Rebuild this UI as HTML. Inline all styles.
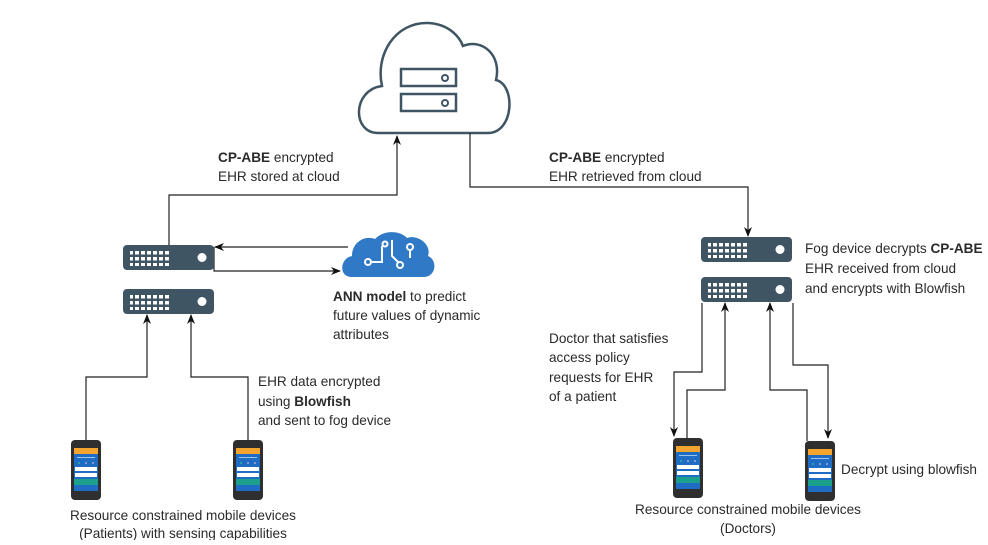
<!DOCTYPE html>
<html><head><meta charset="utf-8"><style>
body{margin:0;background:#fff;width:988px;height:540px;overflow:hidden}
text{font-family:"Liberation Sans",sans-serif;font-size:13.6px;fill:#2a2a2a}
</style></head><body>
<svg width="988" height="540" viewBox="0 0 988 540" xmlns="http://www.w3.org/2000/svg">
<defs>
<marker id="a" markerWidth="10" markerHeight="10" refX="9" refY="5" orient="auto" markerUnits="userSpaceOnUse">
<path d="M0,1 L10,5 L0,9 L3,5 Z" fill="#111"/></marker>
<pattern id="dots" width="6" height="6" patternUnits="userSpaceOnUse"><rect x="0" y="0" width="4" height="3.5" fill="#fff"/></pattern>
<g id="srv">
<rect x="0" y="0" width="91" height="25" rx="4" fill="#3f5564"/>
<rect x="7" y="5" width="40" height="16" fill="url(#dots)"/>
<circle cx="79" cy="12.5" r="4.5" fill="#fff"/>
</g>
<g id="ph">
<rect x="0" y="0" width="30" height="60" rx="4" fill="#2f2f2f"/>
<rect x="3" y="8" width="24" height="43" fill="#1e6cc4"/>
<rect x="3" y="8" width="24" height="6" fill="#f5a430"/>
<rect x="6" y="17" width="18" height="1" fill="#9cc4ef"/>
<circle cx="8" cy="23" r="1" fill="#2bb58f"/><circle cx="15" cy="23" r="1" fill="#aac"/><circle cx="22" cy="23" r="1" fill="#aac"/>
<rect x="4" y="27" width="22" height="4" fill="#fff"/>
<rect x="4" y="33" width="22" height="4" fill="#fff"/>
<rect x="3" y="39" width="24" height="6" fill="#1aa08c"/>
</g>
</defs>
<!-- cloud -->
<path d="M378,133 C352,133 352,90 382,86 C375,55 395,22 428,23 C450,24 460,38 463,46 C482,38 502,55 496,80 C516,85 514,133 488,133 Z" fill="none" stroke="#3f5564" stroke-width="2.5"/>
<rect x="401" y="69" width="55" height="17" fill="none" stroke="#3f5564" stroke-width="2.5"/>
<circle cx="445" cy="78" r="3" fill="none" stroke="#3f5564" stroke-width="2"/>
<rect x="401" y="94" width="55" height="17" fill="none" stroke="#3f5564" stroke-width="2.5"/>
<circle cx="445" cy="103" r="3" fill="none" stroke="#3f5564" stroke-width="2"/>
<g fill="none" stroke="#222" stroke-width="1.2">
<path d="M169,245 V195 H397 V136" marker-end="url(#a)"/>
<path d="M470,133 V187 H748 V236" marker-end="url(#a)"/>
<path d="M348,247 H215" marker-end="url(#a)"/>
<path d="M214,247 V271 H340" marker-end="url(#a)"/>
<path d="M86,440 V377 H147 V315" marker-end="url(#a)"/>
<path d="M248,440 V377 H191 V315" marker-end="url(#a)"/>
<path d="M702,303 V372 H674 V436" marker-end="url(#a)"/>
<path d="M687,438 V390 H725 V303" marker-end="url(#a)"/>
<path d="M807,441 V390 H770 V303" marker-end="url(#a)"/>
<path d="M793,303 V365 H828 V438" marker-end="url(#a)"/>
</g>
<use href="#srv" x="123" y="245"/>
<use href="#srv" x="123" y="289"/>
<use href="#srv" x="701" y="237"/>
<use href="#srv" x="701" y="277"/>
<!-- ANN brain -->
<path d="M352,277 C338,277 340,258 352,256 C352,242 365,235 375,239 C383,230 400,230 407,238 C418,234 432,245 428,256 C438,260 436,277 424,277 Z" fill="#2f79c6"/>
<g stroke="#fff" stroke-width="2" fill="none"><path d="M372,262 H382 V246"/><circle cx="368" cy="262" r="3"/><path d="M392,240 V256 L398,262"/><circle cx="400" cy="265" r="3"/><path d="M410,258 V250"/><circle cx="410" cy="247" r="3"/><circle cx="385" cy="244" r="2.5"/></g>
<use href="#ph" x="71" y="440"/>
<use href="#ph" x="233" y="440"/>
<use href="#ph" x="673" y="438"/>
<use href="#ph" x="805" y="441"/>
<text x="218" y="162"><tspan font-weight="bold">CP-ABE</tspan> encrypted</text>
<text x="218" y="181">EHR stored at cloud</text>
<text x="549" y="162"><tspan font-weight="bold">CP-ABE</tspan> encrypted</text>
<text x="549" y="181">EHR retrieved from cloud</text>
<text x="805" y="253">Fog device decrypts <tspan font-weight="bold">CP-ABE</tspan></text>
<text x="805" y="273">EHR received from cloud</text>
<text x="805" y="293">and encrypts with Blowfish</text>
<text x="333" y="301"><tspan font-weight="bold">ANN model</tspan> to predict</text>
<text x="333" y="320">future values of dynamic</text>
<text x="333" y="339">attributes</text>
<text x="258" y="386">EHR data encrypted</text>
<text x="258" y="406">using <tspan font-weight="bold">Blowfish</tspan></text>
<text x="258" y="425">and sent to fog device</text>
<text x="549" y="343">Doctor that satisfies</text>
<text x="549" y="362">access policy</text>
<text x="549" y="382">requests for EHR</text>
<text x="549" y="401">of a patient</text>
<text x="841" y="474">Decrypt using blowfish</text>
<text x="183" y="520" text-anchor="middle">Resource constrained mobile devices</text>
<text x="183" y="538" text-anchor="middle">(Patients) with sensing capabilities</text>
<text x="748" y="514" text-anchor="middle">Resource constrained mobile devices</text>
<text x="748" y="533" text-anchor="middle">(Doctors)</text>
</svg>
</body></html>
